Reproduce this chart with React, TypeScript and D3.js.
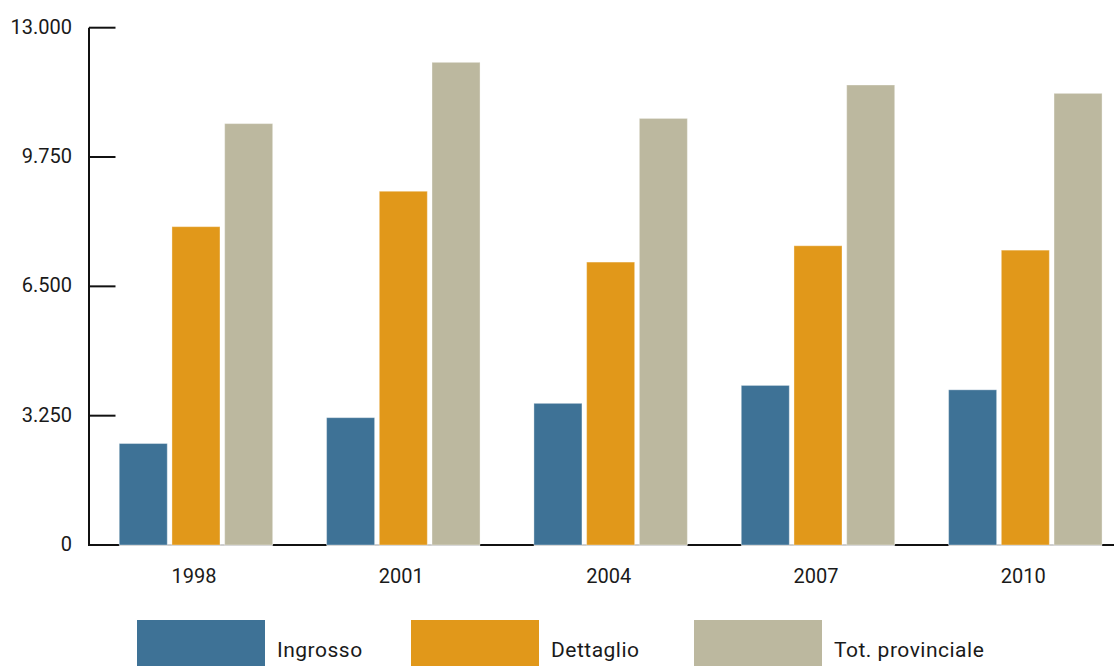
import React from "react";
import * as d3 from "d3";

// Years on the x axis
const years = ["1998", "2001", "2004", "2007", "2010"];
// Series names, in drawing order
const seriesNames = ["Ingrosso", "Dettaglio", "Tot. provinciale"];
// Values per series, one per year
const ingrosso = [2550, 3200, 3560, 4010, 3900];
const dettaglio = [8000, 8890, 7110, 7520, 7410];
const totProvinciale = [10590, 12130, 10720, 11560, 11350];
// Y axis ticks
const yTicks = [0, 3250, 6500, 9750, 13000];

const seriesValues = [ingrosso, dettaglio, totProvinciale];
const colors = ["#3e7296", "#e1981a", "#bcb89f"];

const W = 1114;
const H = 666;
const FONT = "Roboto, 'Noto Sans', sans-serif";
const TEXT = "#1a1a1a";

const itFormat = d3
  .formatLocale({ decimal: ",", thousands: ".", grouping: [3], currency: ["€", ""] })
  .format(",");

export default function App() {
  const axisX = 89;
  const y = d3.scaleLinear().domain([0, 13000]).range([545, 27.7]);
  const x0 = d3
    .scaleBand<string>()
    .domain(years)
    .range([92.3, 1129])
    .paddingInner(0.26)
    .paddingOuter(0.13);
  const x1 = d3
    .scaleBand<string>()
    .domain(seriesNames)
    .range([0, x0.bandwidth()])
    .paddingInner(0.089)
    .paddingOuter(0);

  const legendX = [137, 411, 694];

  return (
    <svg
      width={W}
      height={H}
      style={{ position: "absolute", left: 0, top: 0, background: "#fff" }}
      fontFamily={FONT}
    >
      {/* baseline axis */}
      <line x1={axisX} x2={W} y1={y(0)} y2={y(0)} stroke="#111" strokeWidth={2} />
      {/* lighten the baseline under each group */}
      {years.map((yr) => (
        <rect
          key={"cover" + yr}
          x={x0(yr)!}
          y={y(0) - 1.5}
          width={x0.bandwidth()}
          height={3}
          fill="#fff"
          opacity={0.8}
        />
      ))}

      {/* bars */}
      {years.map((yr, i) => (
        <g key={yr} transform={`translate(${x0(yr)},0)`}>
          {seriesNames.map((s, j) => (
            <rect
              key={s}
              x={x1(s)!}
              y={y(seriesValues[j][i])}
              width={x1.bandwidth()}
              height={y(0) - y(seriesValues[j][i])}
              fill={colors[j]}
              stroke="#fff"
              strokeOpacity={0.35}
              strokeWidth={1}
            />
          ))}
        </g>
      ))}

      {/* y axis */}
      <line x1={axisX} x2={axisX} y1={y(13000)} y2={y(0) + 1} stroke="#111" strokeWidth={2} />
      {yTicks.map((t) => (
        <g key={t}>
          {t > 0 && (
            <line x1={axisX} x2={115.5} y1={y(t)} y2={y(t)} stroke="#111" strokeWidth={2} />
          )}
          <text
            x={72}
            y={y(t)}
            dy="0.3em"
            textAnchor="end"
            fontSize={20}
            fill={TEXT}
          >
            {itFormat(t)}
          </text>
        </g>
      ))}

      {/* x labels */}
      {years.map((yr) => (
        <text
          key={"lbl" + yr}
          x={x0(yr)! + x0.bandwidth() / 2 - 2}
          y={583}
          textAnchor="middle"
          fontSize={20}
          fill={TEXT}
        >
          {yr}
        </text>
      ))}

      {/* legend */}
      {seriesNames.map((s, j) => (
        <g key={"leg" + s}>
          <rect x={legendX[j]} y={620} width={128} height={50} fill={colors[j]} />
          <text x={legendX[j] + 140} y={657} fontSize={21} letterSpacing={0.5} fill={TEXT}>
            {s}
          </text>
        </g>
      ))}
    </svg>
  );
}
